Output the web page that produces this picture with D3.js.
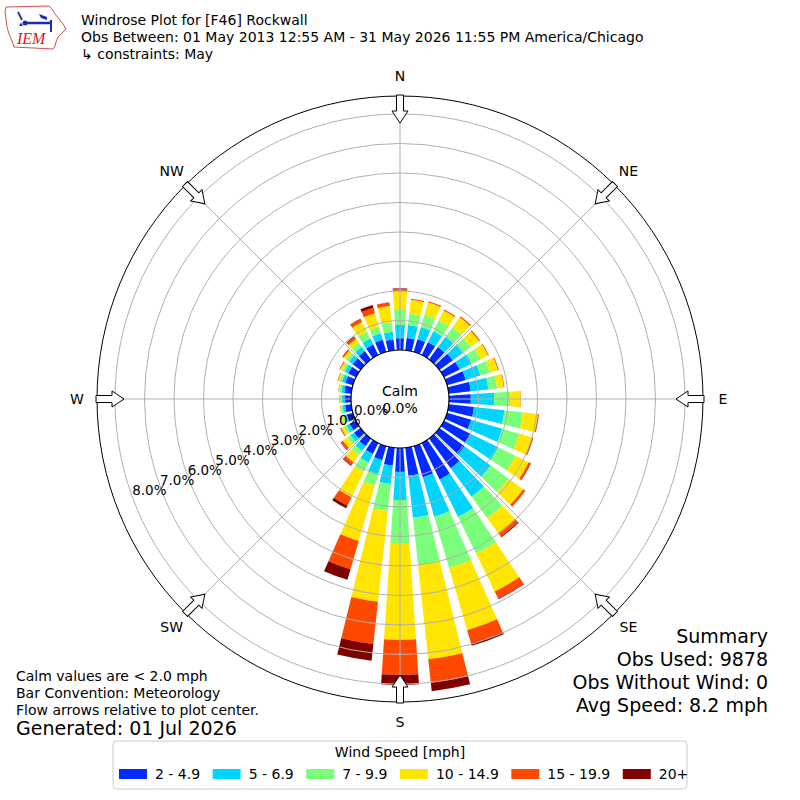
<!DOCTYPE html>
<html><head><meta charset="utf-8">
<script src="https://cdn.jsdelivr.net/npm/d3@7/dist/d3.min.js"></script>
<style>
body{margin:0;background:#fff}
svg{font-family:"DejaVu Sans",sans-serif}
</style>
</head><body>
<svg id="chart" width="800" height="800"></svg>
<script>
// ---------------- DATA ----------------
const directions = [0,10,20,30,40,50,60,70,80,90,100,110,120,130,140,150,160,170,180,190,200,210,220,230,240,250,260,270,280,290,300,310,320,330,340,350];
const speedBins = ["2 - 4.9","5 - 6.9","7 - 9.9","10 - 14.9","15 - 19.9","20+"];
// percent of observations per direction, for each speed bin
const bin2to5   = [0.40,0.42,0.45,0.48,0.52,0.56,0.60,0.66,0.75,0.74,0.86,0.85,1.00,1.05,1.25,1.38,1.10,0.96,0.81,0.61,0.50,0.42,0.32,0.27,0.24,0.22,0.21,0.22,0.24,0.27,0.30,0.33,0.36,0.40,0.43,0.37];
const bin5to7   = [0.45,0.44,0.43,0.42,0.43,0.42,0.45,0.52,0.60,0.79,1.04,1.10,1.05,1.10,1.20,1.42,1.40,1.43,0.95,0.63,0.50,0.33,0.20,0.15,0.12,0.10,0.09,0.09,0.10,0.12,0.13,0.15,0.17,0.22,0.23,0.26];
const bin7to10  = [0.51,0.39,0.42,0.40,0.40,0.34,0.33,0.34,0.30,0.54,0.63,0.60,0.65,0.75,0.90,1.38,1.80,1.60,1.46,0.92,0.40,0.35,0.18,0.13,0.09,0.06,0.05,0.05,0.06,0.08,0.09,0.12,0.17,0.26,0.22,0.33];
const bin10to15 = [0.65,0.47,0.45,0.38,0.42,0.34,0.29,0.28,0.23,0.36,0.51,0.45,0.50,0.62,0.62,1.43,2.20,3.22,3.28,3.09,1.95,0.95,0.30,0.19,0.11,0.05,0.03,0.04,0.04,0.06,0.08,0.11,0.16,0.37,0.49,0.55];
const bin15to20 = [0.07,0.04,0.04,0.04,0.05,0.04,0.03,0.03,0.02,0.01,0.04,0.04,0.08,0.08,0.15,0.27,0.48,0.80,1.19,1.44,1.00,0.32,0.12,0.08,0.03,0.02,0.01,0.01,0.01,0.02,0.02,0.05,0.08,0.12,0.19,0.12];
const bin20plus = [0.01,0.00,0.00,0.00,0.00,0.00,0.00,0.00,0.00,0.00,0.00,0.01,0.01,0.01,0.03,0.02,0.07,0.29,0.34,0.57,0.37,0.10,0.03,0.02,0.01,0.00,0.00,0.00,0.00,0.00,0.01,0.01,0.03,0.01,0.10,0.01];
const ringTicks = [0,1,2,3,4,5,6,7,8];
const compassNames = ["N","NE","E","SE","S","SW","W","NW"];
const compassAngles = [0,45,90,135,180,225,270,315];
const calmPercent = 0.0;
const titleLines = ["Windrose Plot for [F46] Rockwall",
  "Obs Between: 01 May 2013 12:55 AM - 31 May 2026 11:55 PM America/Chicago",
  "\u21b3 constraints: May"];
const summaryLines = ["Summary","Obs Used: 9878","Obs Without Wind: 0","Avg Speed: 8.2 mph"];
const noteLines = ["Calm values are < 2.0 mph","Bar Convention: Meteorology","Flow arrows relative to plot center."];
const generatedText = "Generated: 01 Jul 2026";
const legendTitle = "Wind Speed [mph]";

// ---------------- STYLE ----------------
const binColors = ["#002aff","#00d4ff","#7bff7b","#ffe500","#ff4900","#800000"];
const cx = 400, cy = 399;
const rMaxValue = 8.61;
const rScale = d3.scaleLinear().domain([0, rMaxValue]).range([49, 303]);
const halfWidth = 3.8; // degrees
const rad = Math.PI/180;

const svg = d3.select("#chart");
svg.append("rect").attr("width",800).attr("height",800).attr("fill","#fff");

// ---------------- BARS ----------------
const series = [bin2to5, bin5to7, bin7to10, bin10to15, bin15to20, bin20plus];
const keys = speedBins;
const table = directions.map((d,i) => {
  const o = {dir:d};
  keys.forEach((k,j) => o[k] = series[j][i]);
  return o;
});
const stacked = d3.stack().keys(keys)(table);
const arc = d3.arc()
  .innerRadius(d => rScale(d[0]))
  .outerRadius(d => rScale(d[1]))
  .startAngle(d => (d.data.dir - halfWidth)*rad)
  .endAngle(d => (d.data.dir + halfWidth)*rad);

const plot = svg.append("g").attr("transform",`translate(${cx},${cy})`);
plot.append("g").selectAll("g").data(stacked).join("g")
  .attr("fill",(d,i)=>binColors[i])
  .selectAll("path").data(d => d.filter(s => s[1]-s[0] > 0)).join("path")
  .attr("d", arc);

// ---------------- GRID ----------------
plot.append("g").selectAll("circle").data(ringTicks.filter(t=>t>0)).join("circle")
  .attr("r", d=>rScale(d)).attr("fill","none").attr("stroke","#b0b0b0").attr("stroke-width",1);
plot.append("g").selectAll("line").data(compassAngles).join("line")
  .attr("x1", a => rScale(0)*Math.sin(a*rad)).attr("y1", a => -rScale(0)*Math.cos(a*rad))
  .attr("x2", a => rScale(rMaxValue)*Math.sin(a*rad)).attr("y2", a => -rScale(rMaxValue)*Math.cos(a*rad))
  .attr("stroke","#b0b0b0").attr("stroke-width",1);
plot.append("circle").attr("r", rScale(rMaxValue)).attr("fill","none").attr("stroke","#000").attr("stroke-width",1);

// calm circle
plot.append("circle").attr("r", rScale(0)).attr("fill","#fff").attr("stroke","#000").attr("stroke-width",1.2);
plot.append("text").attr("x",0).attr("y",-3).attr("text-anchor","middle").attr("font-size",14).text("Calm");
plot.append("text").attr("x",0).attr("y",14).attr("text-anchor","middle").attr("font-size",14).text(calmPercent.toFixed(1)+"%");

// radial labels at 250 degrees
const labAng = 250*rad;
plot.append("g").selectAll("text").data(ringTicks).join("text")
  .attr("x", t => rScale(t)*Math.sin(labAng))
  .attr("y", t => -rScale(t)*Math.cos(labAng) - 1)
  .attr("font-size",13.5).attr("text-anchor","start")
  .text(t => t.toFixed(1)+"%");

// arrows
const rOut = rScale(rMaxValue);
const arrowPts = [[-3.5,-(rOut+1)],[3.5,-(rOut+1)],[3.5,-(rOut-15)],[8,-(rOut-15)],[0,-(rOut-27)],[-8,-(rOut-15)],[-3.5,-(rOut-15)]];
plot.append("g").selectAll("polygon").data(compassAngles).join("polygon")
  .attr("points", arrowPts.map(p=>p.join(",")).join(" "))
  .attr("transform", a => `rotate(${a})`)
  .attr("fill","#fff").attr("stroke","#000").attr("stroke-width",1);

// compass labels
plot.append("g").selectAll("text").data(compassAngles).join("text")
  .attr("x", a => 323*Math.sin(a*rad)).attr("y", a => -323*Math.cos(a*rad))
  .attr("text-anchor","middle").attr("dominant-baseline","central").attr("font-size",14)
  .text((a,i)=>compassNames[i]);

// ---------------- TEXT ----------------
svg.append("g").selectAll("text").data(titleLines).join("text")
  .attr("x",81).attr("y",(d,i)=>25+i*17).attr("font-size",14).text(d=>d);

svg.append("g").selectAll("text").data(summaryLines).join("text")
  .attr("x",768).attr("y",(d,i)=>643+i*23).attr("text-anchor","end").attr("font-size",19).text(d=>d);

svg.append("g").selectAll("text").data(noteLines).join("text")
  .attr("x",16).attr("y",(d,i)=>681+i*17).attr("font-size",14).text(d=>d);
svg.append("text").attr("x",16).attr("y",735).attr("font-size",19).text(generatedText);

// ---------------- LEGEND ----------------
const lg = svg.append("g");
lg.append("rect").attr("x",113).attr("y",741).attr("width",574).attr("height",48).attr("rx",4)
  .attr("fill","#fff").attr("stroke","#cccccc").attr("stroke-width",1);
lg.append("text").attr("x",400).attr("y",757).attr("text-anchor","middle").attr("font-size",14).text(legendTitle);
let lx = 119;
speedBins.forEach((label,i) => {
  const g = lg.append("g").attr("transform",`translate(${lx},0)`);
  g.append("rect").attr("x",0).attr("y",769).attr("width",28).attr("height",10).attr("fill",binColors[i]);
  const t = g.append("text").attr("x",36).attr("y",779).attr("font-size",14).text(label);
  lx += 36 + t.node().getComputedTextLength() + 12.5;
});

// ---------------- LOGO ----------------
const logo = svg.append("g");
logo.append("path")
  .attr("d","M6,7 L49,6 L52,9 L55,14 L59,19 L63,24 L66,29 L62,33 L58,37 L56,42 L55,46 L53,49 L14,47 L12,41 L9,34 L7,27 L6,19 L5,12 Z")
  .attr("fill","none").attr("stroke","#d05050").attr("stroke-width",1);
logo.append("line").attr("x1",18).attr("y1",12).attr("x2",22).attr("y2",20).attr("stroke","#1a2db0").attr("stroke-width",1.8);
logo.append("line").attr("x1",23).attr("y1",23).attr("x2",50).attr("y2",23).attr("stroke","#1a2db0").attr("stroke-width",2.5);
logo.append("polygon").attr("points","39,14 47,17 47,20 41,18").attr("fill","#1a2db0");
logo.append("line").attr("x1",51).attr("y1",20).attr("x2",51).attr("y2",32).attr("stroke","#1a2db0").attr("stroke-width",2);
logo.append("circle").attr("cx",25).attr("cy",23).attr("r",2.5).attr("fill","#1a2db0");
logo.append("polygon").attr("points","19,26 23,26 21,22.5").attr("fill","#1a2db0");
logo.append("text").attr("x",17).attr("y",44).attr("font-family","'Liberation Serif',serif").attr("font-style","italic")
  .attr("font-size",16).attr("fill","#d42020").text("IEM");
</script>
</body></html>
